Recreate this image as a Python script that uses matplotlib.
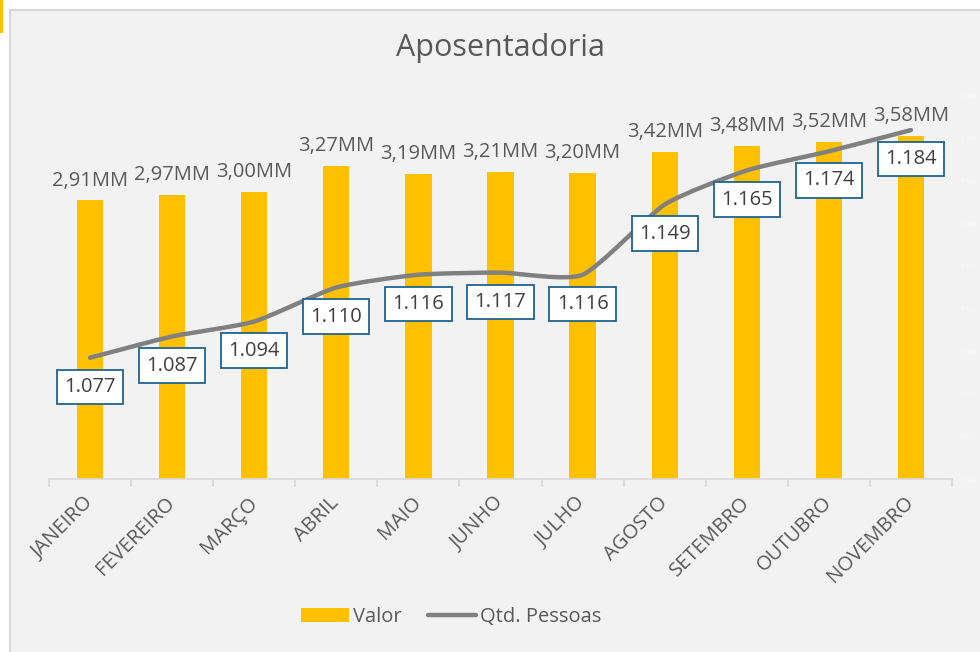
import numpy as np
import matplotlib
matplotlib.use('Agg')
import matplotlib.pyplot as plt
from matplotlib.path import Path
from matplotlib.patches import PathPatch, Rectangle, Patch
from matplotlib.lines import Line2D

plt.rcParams['font.family'] = ['Open Sans', 'DejaVu Sans']

meses = ['JANEIRO', 'FEVEREIRO', 'MARÇO', 'ABRIL', 'MAIO', 'JUNHO', 'JULHO',
         'AGOSTO', 'SETEMBRO', 'OUTUBRO', 'NOVEMBRO']
valor_mm = [2.91, 2.97, 3.00, 3.27, 3.19, 3.21, 3.20, 3.42, 3.48, 3.52, 3.58]
qtd_pessoas = [1.077, 1.087, 1.094, 1.110, 1.116, 1.117, 1.116, 1.149, 1.165, 1.174, 1.184]
valor_ticks = [0.0, 0.5, 1.0, 1.5, 2.0, 2.5, 3.0, 3.5, 4.0]
qtd_ticks = [1.02, 1.04, 1.06, 1.08, 1.10, 1.12, 1.14, 1.16, 1.18, 1.20]

TXT = '#595959'
BAR = '#FFC000'
LINE = '#808080'
BOX = '#1F6391'

W, H = 980, 652
fig = plt.figure(figsize=(W / 100, H / 100), dpi=100, facecolor='white')

# chart area background and border
fig.patches.append(Rectangle((10 / W, -0.01), 1.0, 1 - 10 / H + 0.01,
                             transform=fig.transFigure, facecolor='#F2F2F2',
                             edgecolor='#D9D9D9', lw=1.5, zorder=-10))
fig.patches.append(Rectangle((0, 1 - 33 / H), 3 / W, 33 / H,
                             transform=fig.transFigure, facecolor=BAR,
                             edgecolor='none', zorder=-10))

ax = fig.add_axes([49 / W, 1 - 479 / H, 903 / W, 383 / H])
ax.patch.set_visible(False)
x = np.arange(len(meses))
ax.bar(x, valor_mm, width=0.32, color=BAR, zorder=2)
ax.set_xlim(-0.5, len(meses) - 0.5)
ax.set_ylim(valor_ticks[0], valor_ticks[-1])
ax.set_yticks(valor_ticks)
ax.tick_params(axis='y', length=0, labelleft=False)
for s in ['top', 'right', 'left']:
    ax.spines[s].set_visible(False)
ax.spines['bottom'].set_color('#D9D9D9')
ax.spines['bottom'].set_linewidth(1.2)
ax.set_xticks(x)
ax.set_xticklabels(meses, rotation=45, ha='right', va='center',
                   rotation_mode='anchor', fontsize=14.5, color=TXT)
ax.tick_params(axis='x', which='major', length=0, pad=15)
ax.set_xticks(np.arange(-0.5, len(meses), 1.0), minor=True)
ax.tick_params(axis='x', which='minor', length=6, width=1.2, color='#D9D9D9', direction='out')

for xi, v in zip(x, valor_mm):
    lab = f"{v:.2f}".replace('.', ',') + 'MM'
    ax.annotate(lab, (xi, v), xytext=(0, 7), textcoords='offset points',
                ha='center', va='bottom', fontsize=14.5, color=TXT, zorder=3)

ax2 = ax.twinx()
ax2.patch.set_visible(False)
ax2.set_ylim(qtd_ticks[0], qtd_ticks[-1])
ax2.set_yticks(qtd_ticks)
ax2.set_yticklabels([f"{t:.3f}" for t in qtd_ticks], fontsize=4.5, color='#FAFAFA')
ax2.tick_params(axis='y', length=0, pad=6)
for s in ax2.spines.values():
    s.set_visible(False)

# smoothed line (gentle cubic Bezier through the points, in data coordinates)
pts = np.column_stack([x, qtd_pessoas]).astype(float)
verts = [tuple(pts[0])]
codes = [Path.MOVETO]
n = len(pts)
k = 1.0 / 10.0
for i in range(n - 1):
    p0 = pts[max(i - 1, 0)]
    p1 = pts[i]
    p2 = pts[i + 1]
    p3 = pts[min(i + 2, n - 1)]
    c1 = p1 + (p2 - p0) * k
    c2 = p2 - (p3 - p1) * k
    verts += [tuple(c1), tuple(c2), tuple(p2)]
    codes += [Path.CURVE4] * 3
ax2.add_patch(PathPatch(Path(verts, codes), fill=False, edgecolor=LINE, lw=3.2,
                        capstyle='round', joinstyle='round', zorder=4))

for xi, v in zip(x, qtd_pessoas):
    ax2.annotate(f"{v:.3f}", (xi, v), xytext=(0, -21), textcoords='offset points',
                 ha='center', va='center', fontsize=14.5, color='#404040', zorder=5,
                 bbox=dict(boxstyle='square,pad=0.36', fc='white', ec=BOX, lw=1.3))

fig.text(500 / W, 1 - 48 / H, 'Aposentadoria', ha='center', va='center',
         fontsize=22, color=TXT)

handles = [Patch(facecolor=BAR, edgecolor='none'),
           Line2D([0], [0], color=LINE, lw=3.2, solid_capstyle='round')]
fig.legend(handles, ['Valor', 'Qtd. Pessoas'], loc='center',
           bbox_to_anchor=(451 / W, 1 - 617 / H), ncol=2, frameon=False,
           fontsize=14.5, labelcolor=TXT, handlelength=2.4, handletextpad=0.2,
           columnspacing=1.3)

fig.savefig('out.png', dpi=100, facecolor='white')
